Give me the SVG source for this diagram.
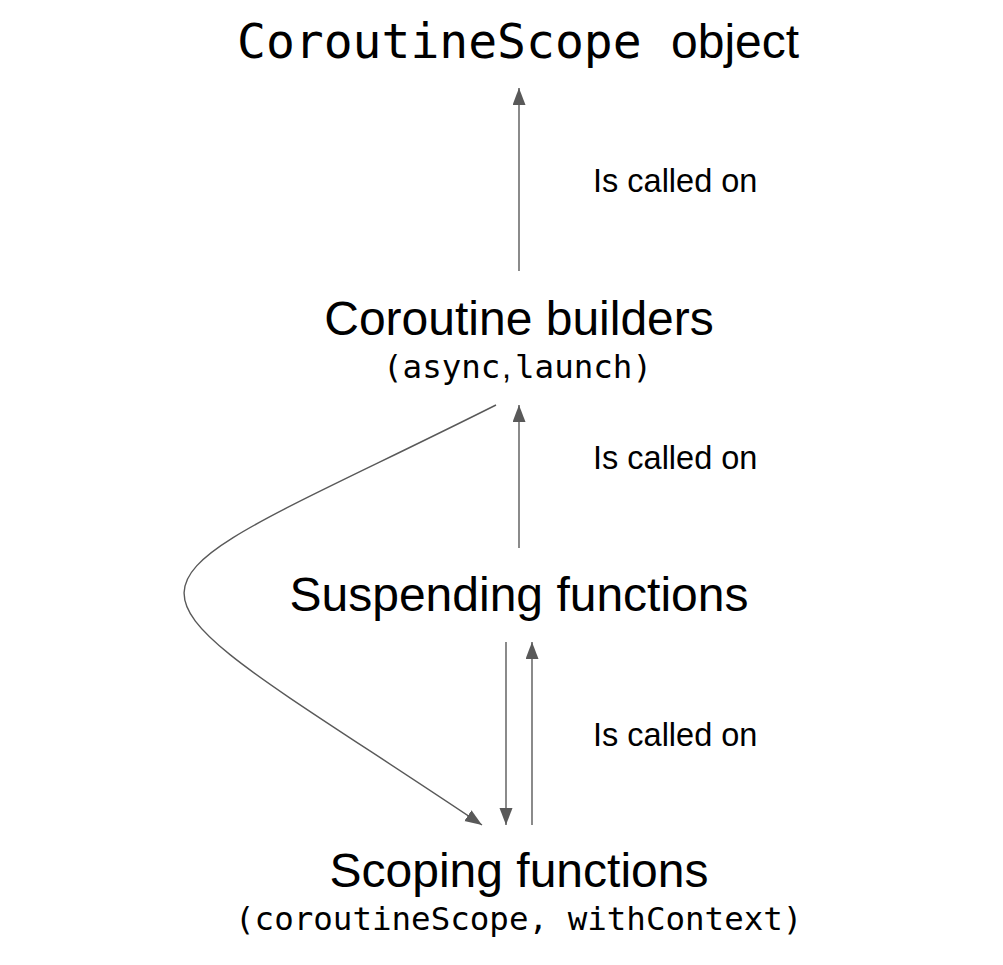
<svg xmlns="http://www.w3.org/2000/svg" width="1003" height="965" viewBox="0 0 1003 965">
<style>
.sans{font-family:"Liberation Sans",Arial,sans-serif;fill:#000}
.mono{font-family:"DejaVu Sans Mono","Liberation Mono",monospace;fill:#000}
.big{font-size:48px}
.lbl{font-size:32.5px}
.code{font-size:32.5px}
.edge{fill:none;stroke:#595959;stroke-width:1.4}
</style>
<defs>
<marker id="ah" markerUnits="userSpaceOnUse" markerWidth="18" markerHeight="14" refX="17" refY="6.5" orient="auto">
<path d="M0,0 L17,6.5 L0,13 z" fill="#595959"/>
</marker>
</defs>
<rect width="1003" height="965" fill="#fff"/>
<g id="scope-object">
<text x="237" y="58" class="mono big">CoroutineScope<tspan x="671" class="sans">object</tspan></text>
</g>
<g id="builders">
<text x="519" y="335" class="sans big" text-anchor="middle">Coroutine builders</text>
<text y="378" class="code"><tspan x="383" class="mono">(async</tspan><tspan x="502" class="sans">,</tspan><tspan x="515" class="mono">launch)</tspan></text>
</g>
<g id="suspending">
<text x="519" y="611" class="sans big" text-anchor="middle">Suspending functions</text>
</g>
<g id="scoping">
<text x="519" y="887" class="sans big" text-anchor="middle">Scoping functions</text>
<text x="235" y="930" class="mono code">(coroutineScope, withContext)</text>
</g>
<g id="labels">
<text x="593" y="192" class="sans lbl">Is called on</text>
<text x="593" y="469" class="sans lbl">Is called on</text>
<text x="593" y="746" class="sans lbl">Is called on</text>
</g>
<g id="connectors">
<path class="edge" d="M519,271 L519,88" marker-end="url(#ah)"/>
<path class="edge" d="M519,548 L519,405" marker-end="url(#ah)"/>
<path class="edge" d="M506,642 L506,825" marker-end="url(#ah)"/>
<path class="edge" d="M532,825 L532,642" marker-end="url(#ah)"/>
<path class="edge" d="M496,405 C82.5,612 82.5,557 482,825" marker-end="url(#ah)"/>
</g>
</svg>
